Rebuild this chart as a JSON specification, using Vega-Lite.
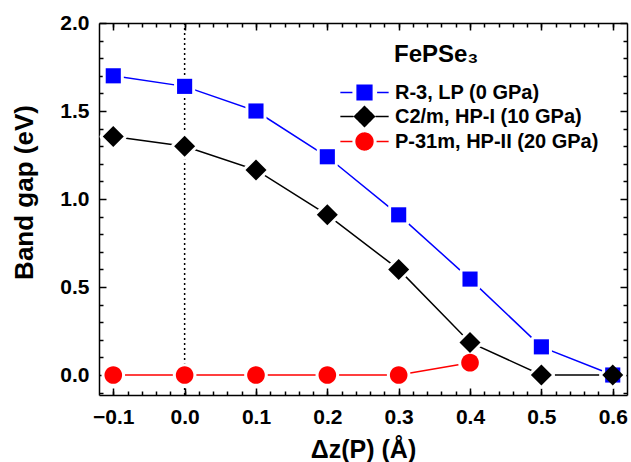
{
  "$schema": "https://vega.github.io/schema/vega-lite/v6.json",
  "width": 528,
  "height": 372,
  "autosize": "none",
  "padding": {"left": 99, "top": 23, "right": 4, "bottom": 67},
  "background": "white",
  "config": {
    "view": {"stroke": null},
    "font": "Liberation Sans",
    "axis": {
      "grid": false,
      "domainColor": "black",
      "domainWidth": 1.5,
      "tickColor": "black",
      "tickWidth": 1.5,
      "labelFont": "Liberation Sans",
      "labelFontWeight": "bold",
      "labelFontSize": 21,
      "labelColor": "black",
      "titleFont": "Liberation Sans",
      "titleFontWeight": "bold",
      "titleFontSize": 25,
      "titleColor": "black"
    },
    "legend": {
      "orient": "none", "legendX": 295, "legendY": 20, "padding": 0,
      "titleFont": "Liberation Sans", "titleFontWeight": "bold", "titleFontSize": 24, "titleColor": "black", "titlePadding": 14,
      "labelFont": "Liberation Sans", "labelFontWeight": "bold", "labelFontSize": 20, "labelColor": "black", "labelLimit": 400,
      "symbolSize": 441, "symbolOffset": -41, "labelOffset": 19, "rowPadding": 0
    }
  },
  "datasets": {
    "gap": [
      {"dz": -0.1, "gap": 1.70, "phase": "R-3, LP (0 GPa)"},
      {"dz": 0.0, "gap": 1.64, "phase": "R-3, LP (0 GPa)"},
      {"dz": 0.1, "gap": 1.50, "phase": "R-3, LP (0 GPa)"},
      {"dz": 0.2, "gap": 1.24, "phase": "R-3, LP (0 GPa)"},
      {"dz": 0.3, "gap": 0.91, "phase": "R-3, LP (0 GPa)"},
      {"dz": 0.4, "gap": 0.545, "phase": "R-3, LP (0 GPa)"},
      {"dz": 0.5, "gap": 0.16, "phase": "R-3, LP (0 GPa)"},
      {"dz": 0.6, "gap": 0.0, "phase": "R-3, LP (0 GPa)"},
      {"dz": -0.1, "gap": 1.355, "phase": "C2/m, HP-I (10 GPa)"},
      {"dz": 0.0, "gap": 1.30, "phase": "C2/m, HP-I (10 GPa)"},
      {"dz": 0.1, "gap": 1.165, "phase": "C2/m, HP-I (10 GPa)"},
      {"dz": 0.2, "gap": 0.91, "phase": "C2/m, HP-I (10 GPa)"},
      {"dz": 0.3, "gap": 0.60, "phase": "C2/m, HP-I (10 GPa)"},
      {"dz": 0.4, "gap": 0.185, "phase": "C2/m, HP-I (10 GPa)"},
      {"dz": 0.5, "gap": 0.0, "phase": "C2/m, HP-I (10 GPa)"},
      {"dz": 0.6, "gap": 0.0, "phase": "C2/m, HP-I (10 GPa)"},
      {"dz": -0.1, "gap": 0.0, "phase": "P-31m, HP-II (20 GPa)"},
      {"dz": 0.0, "gap": 0.0, "phase": "P-31m, HP-II (20 GPa)"},
      {"dz": 0.1, "gap": 0.0, "phase": "P-31m, HP-II (20 GPa)"},
      {"dz": 0.2, "gap": 0.0, "phase": "P-31m, HP-II (20 GPa)"},
      {"dz": 0.3, "gap": 0.0, "phase": "P-31m, HP-II (20 GPa)"},
      {"dz": 0.4, "gap": 0.07, "phase": "P-31m, HP-II (20 GPa)"}
    ],
    "zero": [{"dz": 0.0}]
  },
  "resolve": {"axis": {"x": "independent", "y": "independent"}},
  "layer": [
    {
      "data": {"name": "zero"},
      "mark": {"type": "rule", "color": "black", "strokeWidth": 1.5, "strokeDash": [2, 3]},
      "encoding": {
        "x": {"field": "dz", "type": "quantitative", "scale": {"domain": [-0.12, 0.62], "nice": false, "zero": false}, "axis": null}
      }
    },
    {
      "data": {"name": "gap"},
      "mark": {"type": "line", "strokeWidth": 1.5},
      "encoding": {
        "x": {"field": "dz", "type": "quantitative", "scale": {"domain": [-0.12, 0.62], "nice": false, "zero": false},
          "axis": {"orient": "bottom", "values": [-0.1, 0, 0.1, 0.2, 0.3, 0.4, 0.5, 0.6], "format": ".1f", "tickSize": -7, "labelPadding": 18, "title": "Δz(P) (Å)", "titleBaseline": "alphabetic", "titleY": 62}},
        "y": {"field": "gap", "type": "quantitative", "scale": {"domain": [-0.1136, 2.0], "nice": false, "zero": false},
          "axis": {"orient": "left", "values": [0, 0.5, 1, 1.5, 2], "format": ".1f", "tickSize": -7, "labelPadding": 17, "title": "Band gap (eV)", "titleFontSize": 26, "titleAngle": -90, "titleAlign": "center", "titleBaseline": "alphabetic", "titleX": -67, "titleY": 169}},
        "color": {"field": "phase", "type": "nominal", "scale": {"domain": ["C2/m, HP-I (10 GPa)", "P-31m, HP-II (20 GPa)", "R-3, LP (0 GPa)"], "range": ["#000000", "#ff0000", "#0000ff"]}, "legend": null}
      }
    },
    {
      "data": {"name": "gap"},
      "mark": {"type": "point", "filled": true, "size": 441, "fill": "white", "stroke": "white", "strokeWidth": 6, "strokeJoin": "round", "opacity": 1},
      "encoding": {
        "x": {"field": "dz", "type": "quantitative", "scale": {"domain": [-0.12, 0.62], "nice": false, "zero": false},
          "axis": {"orient": "bottom", "values": [-0.1, -0.08, -0.06, -0.04, -0.02, 0, 0.02, 0.04, 0.06, 0.08, 0.1, 0.12, 0.14, 0.16, 0.18, 0.2, 0.22, 0.24, 0.26, 0.28, 0.3, 0.32, 0.34, 0.36, 0.38, 0.4, 0.42, 0.44, 0.46, 0.48, 0.5, 0.52, 0.54, 0.56, 0.58, 0.6], "tickSize": -4, "labels": false, "domain": false, "title": null}},
        "y": {"field": "gap", "type": "quantitative", "scale": {"domain": [-0.1136, 2.0], "nice": false, "zero": false},
          "axis": {"orient": "left", "values": [-0.1, 0.1, 0.2, 0.3, 0.4, 0.6, 0.7, 0.8, 0.9, 1.1, 1.2, 1.3, 1.4, 1.6, 1.7, 1.8, 1.9], "tickSize": -4, "labels": false, "domain": false, "title": null}},
        "shape": {"field": "phase", "type": "nominal", "scale": {"domain": ["C2/m, HP-I (10 GPa)", "P-31m, HP-II (20 GPa)", "R-3, LP (0 GPa)"], "range": ["M0,-1L1,0L0,1L-1,0Z", "M-0.84,0A0.84,0.84,0,1,0,0.84,0A0.84,0.84,0,1,0,-0.84,0Z", "M-0.72,-0.72H0.72V0.72H-0.72Z"]}, "legend": null}
      }
    },
    {
      "data": {"name": "gap"},
      "mark": {"type": "point", "filled": true, "size": 441, "opacity": 1},
      "encoding": {
        "x": {"field": "dz", "type": "quantitative", "scale": {"domain": [-0.12, 0.62], "nice": false, "zero": false},
          "axis": {"orient": "top", "values": [-0.1, 0, 0.1, 0.2, 0.3, 0.4, 0.5, 0.6], "tickSize": -7, "labels": false, "title": null}},
        "y": {"field": "gap", "type": "quantitative", "scale": {"domain": [-0.1136, 2.0], "nice": false, "zero": false},
          "axis": {"orient": "right", "values": [0, 0.5, 1, 1.5, 2], "tickSize": -7, "labels": false, "title": null}},
        "color": {"field": "phase", "type": "nominal", "scale": {"domain": ["C2/m, HP-I (10 GPa)", "P-31m, HP-II (20 GPa)", "R-3, LP (0 GPa)"], "range": ["#000000", "#ff0000", "#0000ff"]}, "legend": null},
        "shape": {"field": "phase", "type": "nominal", "scale": {"domain": ["C2/m, HP-I (10 GPa)", "P-31m, HP-II (20 GPa)", "R-3, LP (0 GPa)"], "range": ["M0,-1L1,0L0,1L-1,0Z", "M-0.84,0A0.84,0.84,0,1,0,0.84,0A0.84,0.84,0,1,0,-0.84,0Z", "M-0.72,-0.72H0.72V0.72H-0.72Z"]}, "legend": null}
      }
    },
    {
      "data": {"name": "gap"},
      "mark": {"type": "point", "opacity": 0},
      "encoding": {
        "x": {"field": "dz", "type": "quantitative", "scale": {"domain": [-0.12, 0.62], "nice": false, "zero": false},
          "axis": {"orient": "top", "values": [-0.1, -0.08, -0.06, -0.04, -0.02, 0, 0.02, 0.04, 0.06, 0.08, 0.1, 0.12, 0.14, 0.16, 0.18, 0.2, 0.22, 0.24, 0.26, 0.28, 0.3, 0.32, 0.34, 0.36, 0.38, 0.4, 0.42, 0.44, 0.46, 0.48, 0.5, 0.52, 0.54, 0.56, 0.58, 0.6], "tickSize": -4, "labels": false, "domain": false, "title": null}},
        "y": {"field": "gap", "type": "quantitative", "scale": {"domain": [-0.1136, 2.0], "nice": false, "zero": false},
          "axis": {"orient": "right", "values": [-0.1, 0.1, 0.2, 0.3, 0.4, 0.6, 0.7, 0.8, 0.9, 1.1, 1.2, 1.3, 1.4, 1.6, 1.7, 1.8, 1.9], "tickSize": -4, "labels": false, "domain": false, "title": null}},
        "strokeDash": {"field": "phase", "type": "nominal", "title": "FePSe₃", "scale": {"domain": ["R-3, LP (0 GPa)", "C2/m, HP-I (10 GPa)", "P-31m, HP-II (20 GPa)"], "range": [[1, 0], [1, 0], [1, 0]]},
          "legend": {
            "orient": "none",
            "encoding": {
              "symbols": {
                "shape": {"value": {"expr": "datum.value == 'R-3, LP (0 GPa)' ? 'M-2.3,0H-1.15M1.2,0H2.3M-0.7,-0.7H0.7V0.7H-0.7Z' : datum.value == 'C2/m, HP-I (10 GPa)' ? 'M-2.3,0H-1.05M1.05,0H2.3M0,-0.95L0.95,0L0,0.95L-0.95,0Z' : 'M-2.3,0H-1.15M1.15,0H2.3M-0.8,0A0.8,0.8,0,1,0,0.8,0A0.8,0.8,0,1,0,-0.8,0Z'"}},
                "fill": {"value": {"expr": "datum.value == 'R-3, LP (0 GPa)' ? '#0000ff' : datum.value == 'C2/m, HP-I (10 GPa)' ? '#000000' : '#ff0000'"}},
                "stroke": {"value": {"expr": "datum.value == 'R-3, LP (0 GPa)' ? '#0000ff' : datum.value == 'C2/m, HP-I (10 GPa)' ? '#000000' : '#ff0000'"}},
                "strokeWidth": {"value": 1.5},
                "opacity": {"value": 1}
              }
            }
          }
        }
      }
    }
  ]
}
